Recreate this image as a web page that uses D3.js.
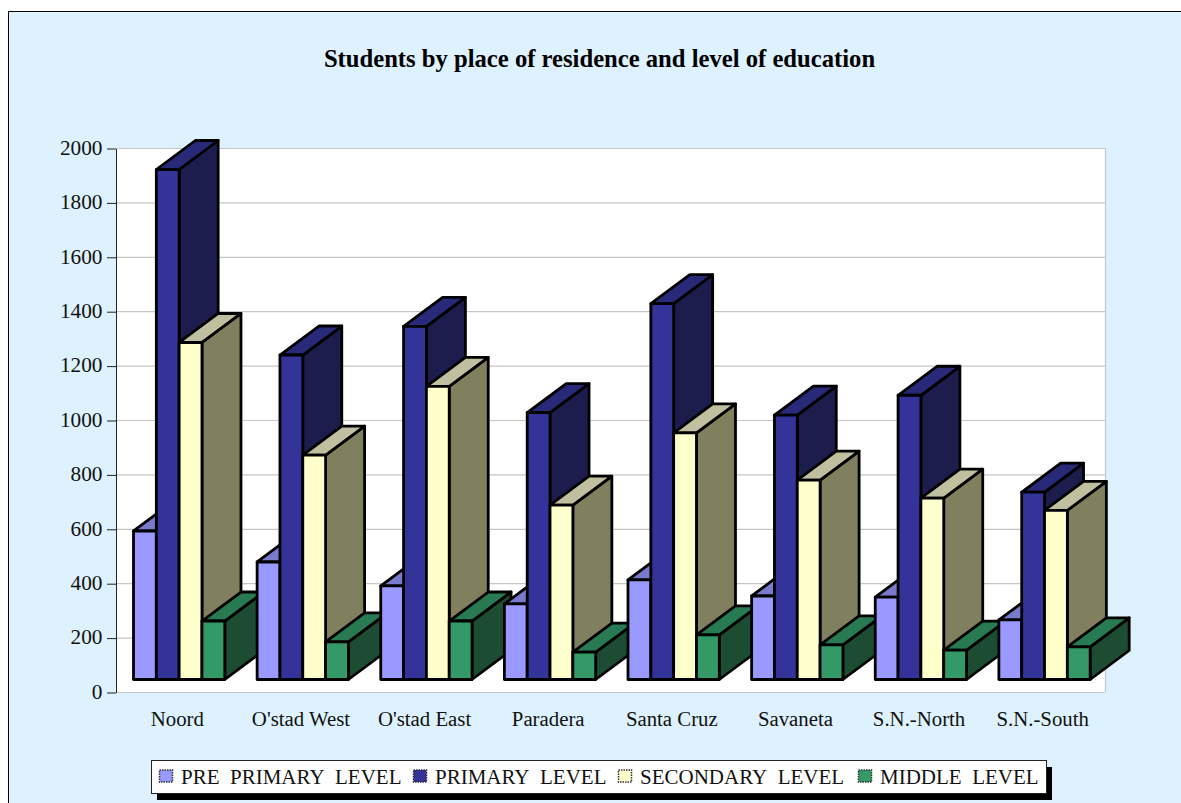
<!DOCTYPE html>
<html><head><meta charset="utf-8">
<script src="https://cdn.jsdelivr.net/npm/d3@7"></script>
<style>html,body{margin:0;padding:0;background:#fff}svg{display:block}text{font-family:"Liberation Serif",serif;fill:#111}</style>
</head><body><svg id="c" width="1181" height="803"></svg>
<script>
const categories=["Noord","O'stad West","O'stad East","Paradera","Santa Cruz","Savaneta","S.N.-North","S.N.-South"];
const seriesNames=["PRE\u00a0\u00a0PRIMARY\u00a0\u00a0LEVEL","PRIMARY\u00a0\u00a0LEVEL","SECONDARY\u00a0\u00a0LEVEL","MIDDLE\u00a0\u00a0LEVEL"];
const prePrimary=[546,432,344,278,366,307,303,219];
const primary=[1875,1193,1298,981,1382,972,1045,689];
const secondary=[1239,825,1078,641,907,733,667,622];
const middle=[215,138,215,101,164,127,108,120];
const yTicks=[0,200,400,600,800,1000,1200,1400,1600,1800,2000];
const series=[prePrimary,primary,secondary,middle];
const frontColors=["#9999ff","#333399","#ffffcc","#339966"];
const topColors=["#7a7acc","#29297a","#c0c0a0","#287a52"];
const sideColors=["#5c5c99","#1c1c4d","#80805f","#1c4d33"];

const svg=d3.select("#c");
const L=116,R=1105,T=148,B=692,depthX=39,depthY=29,frontLift=12.5;
svg.append("rect").attr("x",8.5).attr("y",11.5).attr("width",1180).attr("height",800)
  .attr("fill","#ddf1fe").attr("stroke","#000").attr("stroke-width",1);
svg.append("text").attr("x",599.5).attr("y",67).attr("text-anchor","middle")
  .attr("font-size",24.65).attr("font-weight","bold").style("fill","#000")
  .text("Students by place of residence and level of education");

const y=d3.scaleLinear().domain([0,2000]).range([B,T]);
const x0=d3.scaleBand().domain(categories).range([L,R]);
const x1=d3.scaleBand().domain(d3.range(4)).range([17.5,108.8]);

svg.append("rect").attr("x",L).attr("y",T).attr("width",R-L).attr("height",B-T).attr("fill","#fff");
svg.append("g").selectAll("line").data(yTicks).join("line")
  .attr("x1",L).attr("x2",R).attr("y1",d=>y(d)+.5).attr("y2",d=>y(d)+.5)
  .attr("stroke","#c6c6c6").attr("stroke-width",1.2);
svg.append("line").attr("x1",R+.5).attr("x2",R+.5).attr("y1",T).attr("y2",B).attr("stroke","#c6c6c6").attr("stroke-width",1.2);

const axis=svg.append("g").attr("transform",`translate(${L},0.5)`)
  .call(d3.axisLeft(y).tickValues(yTicks).tickSize(9).tickSizeOuter(0).tickPadding(4.5).tickFormat(d3.format("d")));
axis.selectAll("path,line").attr("stroke","#222").attr("stroke-width",1);
axis.selectAll("text").attr("font-size",21.3).attr("y",-1).style("font-family",'"Liberation Serif",serif');

svg.append("g").selectAll("text").data(categories).join("text")
  .attr("x",d=>x0(d)+x0.bandwidth()/2-0.5).attr("y",726).attr("text-anchor","middle")
  .attr("font-size",20.8).text(d=>d);

const bars=svg.append("g").attr("stroke","#000").attr("stroke-width",2.8).attr("stroke-linejoin","round");
categories.forEach((c,i)=>{
  series.forEach((s,k)=>{
    const xl=x0(c)+x1(k),xr=xl+x1.bandwidth(),yt=y(s[i])-frontLift,yb=y(0)-frontLift;
    const g=bars.append("g");
    g.append("path").attr("fill",sideColors[k]).attr("d",d3.line()([[xr,yb],[xr+depthX,yb-depthY],[xr+depthX,yt-depthY],[xr,yt]])+"Z");
    g.append("path").attr("fill",topColors[k]).attr("d",d3.line()([[xl,yt],[xl+depthX,yt-depthY],[xr+depthX,yt-depthY],[xr,yt]])+"Z");
    g.append("rect").attr("x",xl).attr("y",yt).attr("width",xr-xl).attr("height",yb-yt).attr("fill",frontColors[k]);
  });
});

const lg=svg.append("g");
lg.append("rect").attr("x",157).attr("y",767).attr("width",895).attr("height",33).attr("fill","#000");
lg.append("rect").attr("x",151.5).attr("y",760.5).attr("width",895).attr("height",33).attr("fill","#fff").attr("stroke","#222");
const legendX=[159.5,413.5,618.5,858.5];
seriesNames.forEach((n,k)=>{
  lg.append("rect").attr("x",legendX[k]).attr("y",770).attr("width",13).attr("height",12)
    .attr("fill",frontColors[k]).attr("stroke","#333").attr("stroke-width",1.5).attr("stroke-dasharray","1.5 1");
  lg.append("text").attr("x",legendX[k]+21.5).attr("y",784).attr("font-size",21).text(n);
});
</script></body></html>
